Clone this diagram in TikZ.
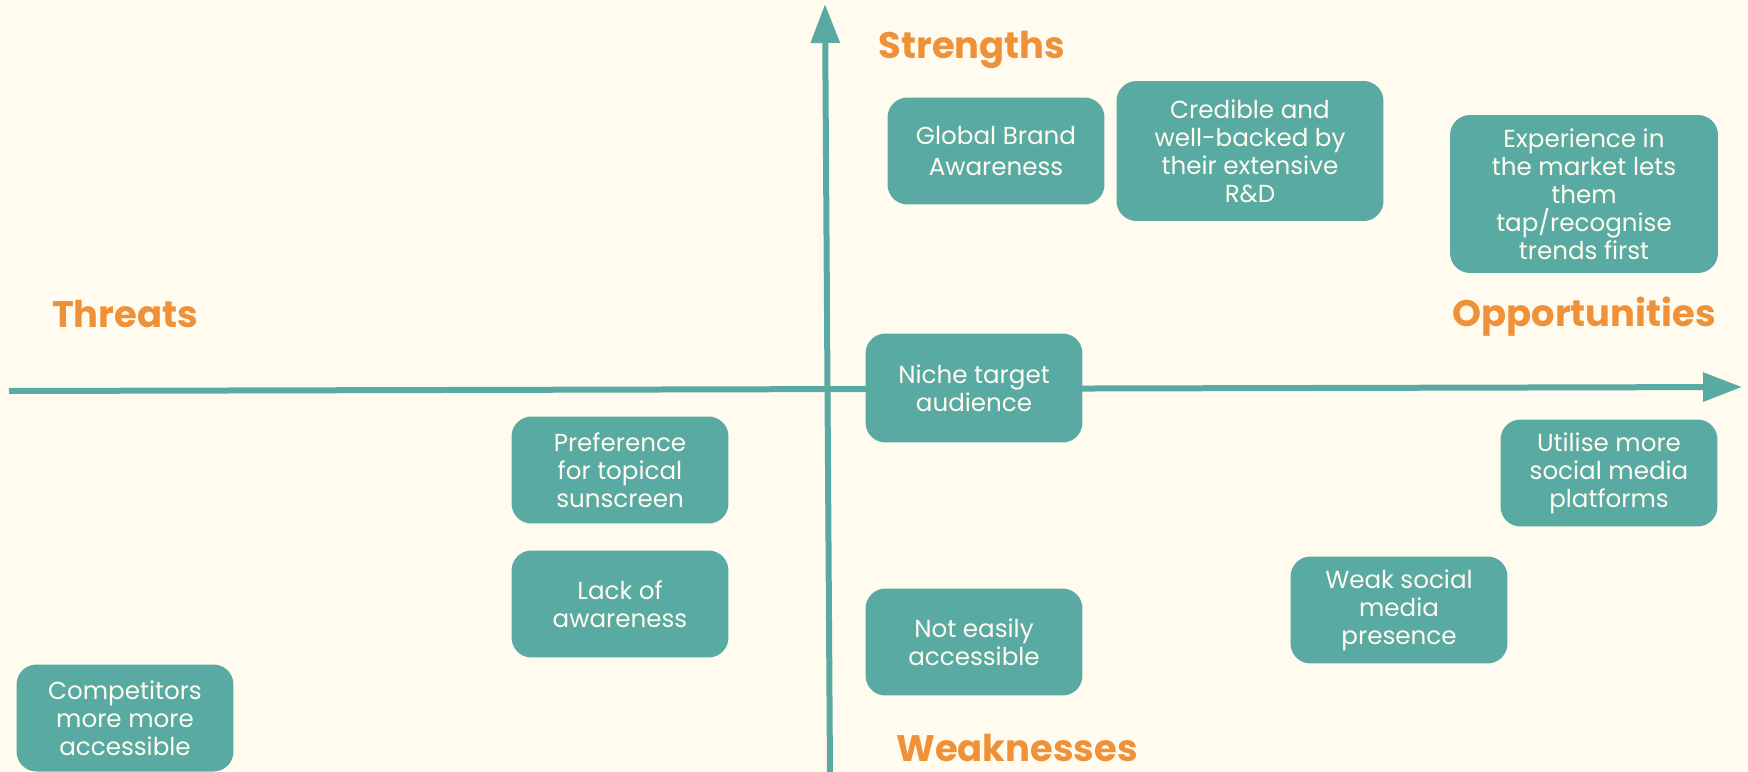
\documentclass[tikz,border=0pt]{standalone}
\usepackage{fontspec}
\setmainfont{Poppins}
\usepackage{tikz}
\usetikzlibrary{arrows.meta}
\definecolor{paper}{HTML}{FFFBEE}
\definecolor{teal}{HTML}{5AAAA4}
\definecolor{amber}{HTML}{EE9138}
\tikzstyle{swot} = [rectangle, rounded corners=0.4cm, minimum width=4.34cm, minimum height=2.14cm, align=center, fill=teal, text=paper, inner sep=0pt, font=\fontsize{14pt}{15.9pt}\selectfont]
\tikzstyle{heading} = [anchor=base, text=amber, font=\fontsize{21pt}{24pt}\selectfont\bfseries]
\tikzstyle{axis} = [teal, line width=0.12cm, -{Triangle[length=0.78cm,width=0.56cm]}]
\begin{document}
\begin{tikzpicture}[x=0.02cm, y=-0.02cm]

			\fill [paper] (0,0) rectangle (1748,771);
			\useasboundingbox (0,0) rectangle (1748,771);

			% axes
			\coordinate (west) at (9,391);
			\coordinate (east) at (1742,387);
			\coordinate (south) at (830,775);
			\coordinate (north) at (825,4);
			\draw [axis] (west) -- (east);
			\draw [axis] (south) -- (north);

			\node (strengths) [heading] at (972,58) {Strengths};
			\node (threats) [heading] at (125,327) {Threats};
			\node (opportunities) [heading] at (1584,326) {Opportunities};
			\node (weaknesses) [heading] at (1017,761) {Weaknesses};

			\node (global) [swot, font=\fontsize{14pt}{17.5pt}\selectfont] at (996,151) {Global Brand\\Awareness};
			\node (credible) [swot, minimum width=5.34cm, minimum height=2.8cm] at (1250,151) {Credible and\\well-backed by\\their extensive\\R\&D};
			\node (experience) [swot, minimum width=5.36cm, minimum height=3.16cm] at (1584,194) {Experience in\\the market lets\\them\\tap/recognise\\trends first};
			\node (niche) [swot, minimum height=2.18cm] at (974,388) {Niche target\\audience};
			\node (preference) [swot] at (620,470) {Preference\\for topical\\sunscreen};
			\node (lack) [swot] at (620,604) {Lack of\\awareness};
			\node (noteasy) [swot] at (974,642) {Not easily\\accessible};
			\node (utilise) [swot] at (1609,473) {Utilise more\\social media\\platforms};
			\node (weak) [swot] at (1399,610) {Weak social\\media\\presence};
			\node (competitors) [swot] at (125,718) {Competitors\\more more\\accessible};

		\end{tikzpicture}
\end{document}
